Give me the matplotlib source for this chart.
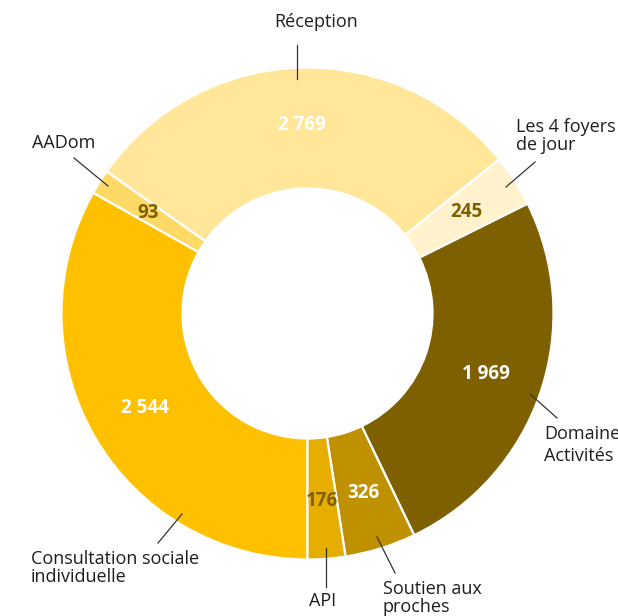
import matplotlib
matplotlib.use("Agg")
from matplotlib import pyplot as plt

W, H = 618, 616

# categories, clockwise from the bottom
categories = ["Consultation sociale\nindividuelle", "AADom", "Réception", "Les 4 foyers\nde jour",
              "Domaine\nActivités", "Soutien aux\nproches", "API"]
# numbers printed on the ring
values = [2544, 93, 2769, 245, 1969, 326, 176]
# wedge sizes as drawn in the picture (degrees of the ring)
wedge_sizes = [119.4, 5.9, 105.9, 12.3, 90.8, 16.8, 8.9]
colors = ["#FFC000", "#FFD966", "#FFE699", "#FFF2CC", "#7F6000", "#BF9000", "#E6AE00"]
number_colors = ["white", "#7F6000", "white", "#7F6000", "white", "white", "#7F6000"]

# outer labels: (x, y) in pixels from the top left, alignment, line spacing
label_pos = [(31, 568, "left", 1.0), (64, 143, "center", 1.0), (316, 22, "center", 1.0),
             (516, 136, "left", 1.0), (544, 445, "left", 1.25), (383, 598, "left", 1.05),
             (323, 601, "center", 1.0)]
# leader lines in pixels: (x0, y0, x1, y1)
leaders = [(158, 543, 182, 514), (74, 158, 108, 186), (297, 45, 297, 79),
           (535, 162, 506, 187), (557, 418, 530, 394), (395, 573, 377, 537),
           (326, 587, 326, 548)]


def fmt(v):
    return f"{v:,}".replace(",", " ")


plt.rcParams['font.family'] = ['Open Sans', 'DejaVu Sans']

fig = plt.figure(figsize=(W / 100, H / 100), dpi=100)
ax = fig.add_axes([0, 0, 1, 1])

cx, cy = 307.5, H - 313.5
r_out, r_in = 246, 125

wedges, texts = ax.pie(wedge_sizes, colors=colors, startangle=270, counterclock=False,
                       center=(cx, cy), radius=r_out, labels=[fmt(v) for v in values],
                       labeldistance=0.765,
                       wedgeprops=dict(width=r_out - r_in, edgecolor="white", linewidth=1.6))
for t, c in zip(texts, number_colors):
    t.set_ha("center")
    t.set_va("center")
    t.set_color(c)
    t.set_fontsize(13.5)
    t.set_fontweight("bold")

for name, (x, y, ha, ls) in zip(categories, label_pos):
    ax.text(x, H - y, name, ha=ha, va="center", fontsize=13, color="#1e1e1e", linespacing=ls)

for x0, y0, x1, y1 in leaders:
    ax.plot([x0, x1], [H - y0, H - y1], color="#333333", lw=0.9)

ax.set_xlim(0, W)
ax.set_ylim(0, H)
ax.set_aspect("equal")
ax.axis("off")

fig.savefig("out.png", dpi=100)
